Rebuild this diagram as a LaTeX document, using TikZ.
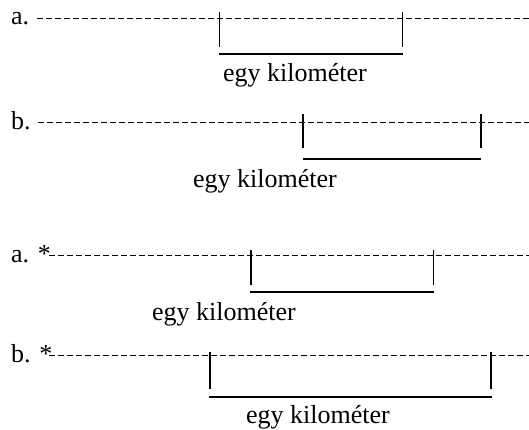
\documentclass[tikz,border=0pt]{standalone}
\usepackage{fontspec}
\setmainfont{Liberation Serif}
\begin{document}
\begin{tikzpicture}[x=1pt,y=-1pt,
  lbl/.style={inner sep=0pt,anchor=base west,font=\fontsize{26}{30}\selectfont},
  kmtext/.style={inner sep=0pt,anchor=base,font=\fontsize{26}{30}\selectfont},
  dline/.style={line width=1pt,dash pattern=on 6.2pt off 2.8pt},
  tickln/.style={line width=1.5pt},
  barln/.style={line width=1.7pt}]
\useasboundingbox (0,0) rectangle (529,430);
% row a
\node[lbl] (la) at (11,25) {a.};
\coordinate (sa) at (37,19);
\coordinate (ea) at (529,19);
\draw[dline] (sa) -- (ea);
\coordinate (ta1) at (219.5,12); \coordinate (ba1) at (219.5,47);
\coordinate (ta2) at (402.5,12); \coordinate (ba2) at (402.5,47);
\draw[tickln] (ta1) -- (ba1);
\draw[tickln] (ta2) -- (ba2);
\coordinate (ha1) at (219,54); \coordinate (ha2) at (403,54);
\draw[barln] (ha1) -- (ha2);
\node[kmtext] (ka) at (295,82) {egy kilométer};
% row b
\node[lbl] (lb) at (11,130) {b.};
\coordinate (sb) at (38,123);
\coordinate (eb) at (529,123);
\draw[dline] (sb) -- (eb);
\coordinate (tb1) at (303,114); \coordinate (bb1) at (303,148);
\coordinate (tb2) at (481,114); \coordinate (bb2) at (481,148);
\draw[tickln] (tb1) -- (bb1);
\draw[tickln] (tb2) -- (bb2);
\coordinate (hb1) at (303,159); \coordinate (hb2) at (481,159);
\draw[barln] (hb1) -- (hb2);
\node[kmtext] (kb) at (265,188) {egy kilométer};
% row a*
\node[lbl] (lc) at (11,262) {a. *};
\coordinate (sc) at (49,255);
\coordinate (ec) at (529,255);
\draw[dline] (sc) -- (ec);
\coordinate (tc1) at (251,250); \coordinate (bc1) at (251,285);
\coordinate (tc2) at (433.5,250); \coordinate (bc2) at (433.5,285);
\draw[tickln] (tc1) -- (bc1);
\draw[tickln] (tc2) -- (bc2);
\coordinate (hc1) at (250,292); \coordinate (hc2) at (434,292);
\draw[barln] (hc1) -- (hc2);
\node[kmtext] (kc) at (224,320) {egy kilométer};
% row b*
\node[lbl] (ld) at (11,362) {b. *};
\coordinate (sd) at (49,355);
\coordinate (ed) at (529,355);
\draw[dline] (sd) -- (ed);
\coordinate (td1) at (210,352); \coordinate (bd1) at (210,389);
\coordinate (td2) at (491,352); \coordinate (bd2) at (491,389);
\draw[tickln] (td1) -- (bd1);
\draw[tickln] (td2) -- (bd2);
\coordinate (hd1) at (209,397); \coordinate (hd2) at (492,397);
\draw[barln] (hd1) -- (hd2);
\node[kmtext] (kd) at (318,423) {egy kilométer};
\end{tikzpicture}
\end{document}
